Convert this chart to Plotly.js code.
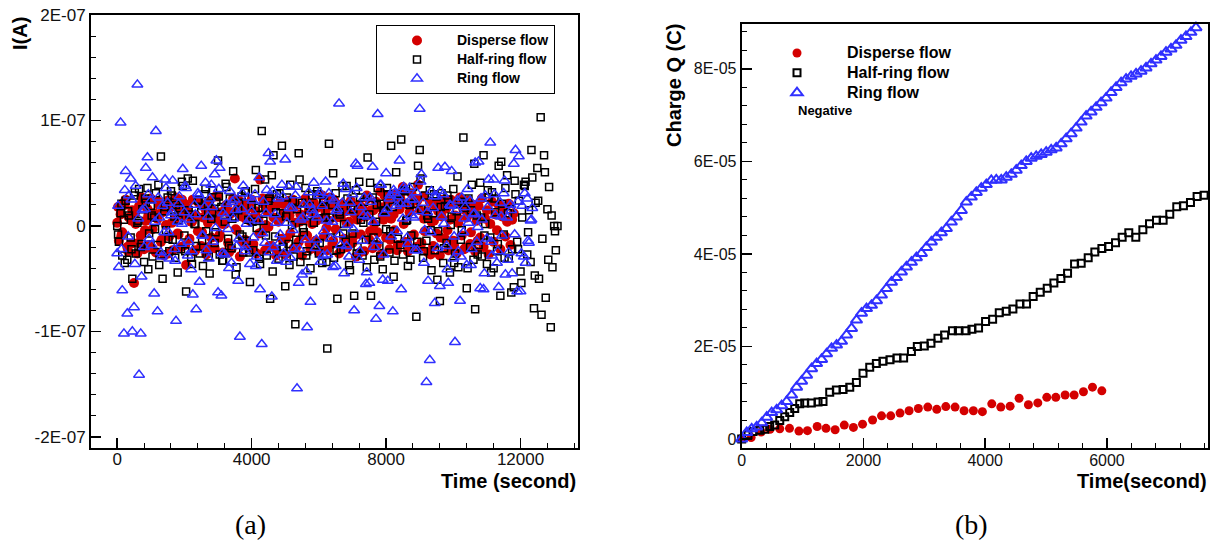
<!DOCTYPE html>
<html>
<head>
<meta charset="utf-8">
<script src="https://cdn.plot.ly/plotly-3.0.1.min.js"></script>
<style>html,body{margin:0;padding:0;background:#fff;}#chart{width:1212px;height:548px;}</style>
</head>
<body>
<div id="chart"></div>
<script>
// ---------- Panel (a): current I(A) vs time, values in units of 1e-8 A ----------
const timeGrid = [
0,50,100,150,200,250,300,350,400,450,500,550,600,650,700,750,800,850,900,950,
1000,1050,1100,1150,1200,1250,1300,1350,1400,1450,1500,1550,1600,1650,1700,1750,1800,1850,1900,1950,
2000,2050,2100,2150,2200,2250,2300,2350,2400,2450,2500,2550,2600,2650,2700,2750,2800,2850,2900,2950,
3000,3050,3100,3150,3200,3250,3300,3350,3400,3450,3500,3550,3600,3650,3700,3750,3800,3850,3900,3950,
4000,4050,4100,4150,4200,4250,4300,4350,4400,4450,4500,4550,4600,4650,4700,4750,4800,4850,4900,4950,
5000,5050,5100,5150,5200,5250,5300,5350,5400,5450,5500,5550,5600,5650,5700,5750,5800,5850,5900,5950,
6000,6050,6100,6150,6200,6250,6300,6350,6400,6450,6500,6550,6600,6650,6700,6750,6800,6850,6900,6950,
7000,7050,7100,7150,7200,7250,7300,7350,7400,7450,7500,7550,7600,7650,7700,7750,7800,7850,7900,7950,
8000,8050,8100,8150,8200,8250,8300,8350,8400,8450,8500,8550,8600,8650,8700,8750,8800,8850,8900,8950,
9000,9050,9100,9150,9200,9250,9300,9350,9400,9450,9500,9550,9600,9650,9700,9750,9800,9850,9900,9950,
10000,10050,10100,10150,10200,10250,10300,10350,10400,10450,10500,10550,10600,10650,10700,10750,10800,10850,10900,10950,
11000,11050,11100,11150,11200,11250,11300,11350,11400,11450,11500,11550,11600,11650,11700,11750,11800,11850,11900,11950,
12000,12050,12100,12150,12200,12250,12300,12350,12400,12450,12500,12550,12600,12650,12700,12750,12800,12850,12900,12950,
13000,13050,13100];

// interleaved readings between the main grid
const timeGridB = [
25,125,225,325,425,525,625,725,825,925,1025,1125,1225,1325,1425,1525,1625,1725,1825,1925,
2025,2125,2225,2325,2425,2525,2625,2725,2825,2925,3025,3125,3225,3325,3425,3525,3625,3725,3825,3925,
4025,4125,4225,4325,4425,4525,4625,4725,4825,4925,5025,5125,5225,5325,5425,5525,5625,5725,5825,5925,
6025,6125,6225,6325,6425,6525,6625,6725,6825,6925,7025,7125,7225,7325,7425,7525,7625,7725,7825,7925,
8025,8125,8225,8325,8425,8525,8625,8725,8825,8925,9025,9125,9225,9325,9425,9525,9625,9725,9825,9925,
10025,10125,10225,10325,10425,10525,10625,10725,10825,10925,11025,11125,11225,11325,11425,11525,11625,11725,11825,11925,
12025,12125,12225,12325,12425,12525,12625,12725,12825,12925,13025];

const disperseI = [0.3,-1.4,1.1,-0.6,2.2,2.5,-2.0,0.8,-1.7,1.5,
 -5.4,0.2,-2.6,1.9,-0.9,2.3,-2.2,0.5,1.6,-1.8,
 2.6,-0.3,1.2,-2.5,0.7,2.0,-1.5,1.3,-2.8,0.1,
 2.4,-1.0,1.8,-2.3,0.6,2.7,-0.7,1.4,-2.0,0.9,
 2.1,-3.7,1.7,-1.2,0.4,2.5,-2.4,1.0,-0.5,2.2,
 -1.9,0.8,1.9,-2.7,0.3,2.4,-1.1,1.5,-2.1,0.6,
 2.8,-0.8,1.3,-2.5,0.2,2.0,-1.6,1.1,-2.2,2.6,
 4.5,-0.4,1.8,-2.9,0.9,2.2,-1.3,1.6,-2.0,0.5,
 2.5,-1.7,1.0,-2.6,0.7,4.4,-0.6,2.1,-2.3,1.4,
 -0.1,2.7,-1.9,0.8,1.9,-2.4,0.4,2.3,-1.2,1.2,
 -2.7,0.9,2.4,-0.7,1.6,-2.1,0.3,2.0,-1.5,1.1,
 -2.8,0.6,2.6,-0.9,1.5,-2.2,0.2,2.2,-1.4,1.7,
 -2.5,0.7,2.9,-1.0,1.3,-2.3,0.5,1.9,-1.7,2.5,
 -0.3,1.0,-2.6,0.8,2.1,-1.2,1.4,-2.0,0.4,2.4,
 -1.6,1.2,-2.9,0.6,2.0,-0.8,1.7,-2.4,0.9,2.6,
 -1.3,1.5,-2.1,0.2,2.3,-0.6,1.8,-2.7,1.0,2.9,
 -1.1,2.2,-2.2,0.7,3.0,-0.4,2.4,-1.8,1.6,3.2,
 3.7,-1.5,2.1,-2.4,1.3,3.1,-0.9,2.6,-2.0,3.9,
 1.5,-1.6,2.8,-0.5,1.1,-2.5,2.3,0.4,-1.9,2.0,
 -0.7,1.4,-2.8,0.9,2.5,-1.2,1.7,-2.3,0.6,2.2,
 -1.4,1.0,-2.6,0.3,2.7,-0.9,1.6,-2.1,0.8,2.4,
 -1.7,1.2,2.0,-2.4,0.5,1.9,-1.1,2.6,-2.0,0.7,
 1.5,-2.7,0.2,2.3,-1.5,1.1,-0.4,2.0,-2.2,0.9,
 1.7,-1.0,0.4,2.1,-1.8,0.6,1.2];
const disperseIB = [1.8,-0.9,2.0,-2.4,0.5,1.2,-1.6,2.7,-0.4,1.0,
 -2.1,0.8,2.3,-1.3,1.5,-2.6,0.3,1.9,-0.8,2.5,
 -1.8,1.1,0.4,-2.3,2.2,-0.6,1.6,-2.0,0.9,2.8,
 -1.1,0.2,1.7,-2.5,1.3,-0.3,2.4,-1.5,0.7,2.0,
 -2.2,1.4,-0.7,2.6,0.1,-1.9,1.8,-2.8,0.6,2.1,
 -1.2,1.0,2.5,-2.0,0.4,-0.9,2.3,-1.7,1.2,0.5,
 -2.4,1.9,-0.2,2.7,-1.4,0.8,1.6,-2.1,0.3,2.2,
 -1.0,1.3,-2.5,0.9,2.9,-0.5,1.5,-1.8,3.3,0.6,
 2.0,-1.3,1.1,-2.3,2.6,0.2,-1.6,1.9,-0.8,2.4,
 -2.0,0.7,1.4,-2.7,0.5,2.1,-1.1,1.6,-0.4,2.5,
 -1.9,0.8,2.2,-2.2,1.2,-0.6,1.8,-1.4];

const halfRingI = [0.0,-1.5,1.2,-2.8,0.6,2.4,-3.2,1.0,-1.1,-5.0,
 2.9,-2.6,0.3,3.5,-2.0,1.6,-3.4,2.2,3.6,-0.7,
 1.9,-2.9,0.8,3.1,-1.8,-3.7,6.6,-5.0,1.4,-0.4,
 2.7,-2.4,3.3,-1.3,0.9,2.0,-4.4,1.7,-2.2,3.8,
 -0.9,-6.2,4.5,1.1,-3.0,4.3,0.2,-1.9,2.5,-2.6,
 1.3,-3.8,3.0,-0.5,2.1,-4.5,0.7,3.4,-1.6,2.3,
 6.2,-2.7,1.8,-3.3,0.4,3.7,-1.2,2.6,-2.1,5.2,
 0.9,-3.9,1.5,-0.8,2.8,-2.5,3.2,-1.4,0.6,-5.3,
 2.0,-2.3,3.5,-0.2,1.7,-3.6,9.0,0.5,4.4,-2.8,
 2.4,-6.9,4.8,6.7,-1.0,3.0,-3.1,1.2,7.6,-2.0,
 -5.7,2.7,-1.7,3.9,0.1,-2.9,-9.3,1.6,6.9,-3.4,
 2.2,-0.6,3.6,-2.4,1.0,-4.0,2.9,0.3,-1.8,3.3,
 -2.6,1.4,-3.5,2.5,0.8,-11.6,7.8,-1.1,2.0,-3.0,
 3.1,-6.9,1.3,-2.2,3.8,0.2,-1.5,2.6,-3.7,1.9,
 -0.7,-6.6,3.4,-2.0,4.2,0.6,-2.8,2.3,-1.3,6.5,
 1.1,-6.6,2.7,-3.2,0.4,3.6,-1.9,2.1,-4.1,1.5,
 -0.3,3.0,-2.5,7.6,1.8,-3.3,5.1,-1.2,2.4,8.2,
 -2.7,3.3,0.5,-3.8,2.0,-0.9,3.7,-2.1,-8.6,5.7,
 7.2,1.6,-3.0,2.9,-1.4,0.7,3.4,-4.2,1.2,-2.3,
 2.8,-0.5,-7.1,3.1,-3.5,1.9,-1.6,2.5,-4.4,0.9,
 3.5,-2.6,1.4,-3.9,2.3,-0.4,8.4,1.7,-5.9,2.6,
 -2.0,3.9,-3.2,-7.9,1.0,-1.8,4.1,-2.9,6.7,0.2,
 -3.6,2.7,-1.1,3.2,-4.0,1.3,-2.4,5.7,-6.6,2.1,
 -0.8,3.6,4.8,-3.1,1.6,-2.2,-5.8,3.0,-1.5,2.4,
 -4.3,0.8,3.9,4.2,-2.7,1.5,-3.4,4.6,-7.8,2.2,
 5.5,-5.0,10.3,-1.2,6.7,-6.8,1.6,3.7,-9.6,-3.9,
 0.0,-2.3,0.0];
const halfRingIB = [-0.8,2.1,-3.5,1.4,-2.2,3.2,0.5,-1.7,2.6,-4.1,
 1.0,-0.3,3.9,-2.7,1.8,-1.2,2.9,-3.0,0.6,4.2,
 -2.4,1.5,-3.6,0.2,2.4,-1.4,3.5,-2.9,1.2,-0.6,
 2.8,-3.3,4.0,-1.9,0.7,-4.6,2.2,-1.0,3.3,-2.5,
 0.4,5.3,-3.1,1.7,-0.9,2.6,-4.3,1.3,3.1,-2.0,
 0.9,-3.7,2.4,-1.3,4.4,-0.2,-2.8,1.9,-5.2,3.0,
 -1.6,2.3,-3.4,0.8,5.0,-2.3,1.1,-0.7,3.8,-4.2,
 1.6,-2.6,2.7,0.3,-3.9,4.1,-1.1,2.0,-2.9,1.4,
 3.6,-0.5,-4.8,2.5,-1.8,3.4,0.6,-3.2,2.1,-1.5,
 4.5,-2.4,1.0,-0.4,3.0,-5.1,1.8,-2.1,2.9,0.1,
 -3.5,4.7,-1.3,2.2,-4.0,1.5,5.9,-2.7,0.8,-0.9,
 3.4,-4.4,2.6,-1.7,6.1,-3.0,1.2,-6.3,4.3,-2.2,
 -5.4,3.8,-0.6,7.2,-4.7,2.4,-8.4,5.1,-3.2,1.0,
 -0.5];

const ringI = [-2.6,-3.9,9.8,-6.1,-10.2,5.2,-8.3,2.9,4.5,-10.0,
 -7.7,3.8,13.4,-14.1,-10.2,1.5,-2.0,5.5,6.5,-1.2,
 2.4,4.6,-6.4,9.0,-8.1,0.8,-2.5,1.9,-0.6,3.6,
 2.2,-3.1,1.0,4.3,-2.2,-9.0,0.4,2.8,-1.7,5.4,
 1.3,3.6,-2.8,0.6,-4.1,-6.5,2.0,-7.9,3.1,-5.3,
 5.7,-0.9,1.8,-2.3,0.9,2.6,3.9,-1.5,4.9,6.2,
 -6.3,5.5,-6.6,1.2,-2.7,2.1,-0.3,3.3,-3.5,0.7,
 2.5,-1.9,-5.2,-10.5,1.6,3.8,-2.4,0.2,2.7,-3.6,
 1.4,-1.1,3.0,-2.9,0.5,-6.0,-11.2,2.3,-1.6,3.4,
 6.9,6.1,-6.7,-2.0,1.1,-3.3,2.6,-0.8,3.9,-2.6,
 6.3,0.3,3.7,-3.0,1.7,-2.2,2.9,-15.4,-5.4,0.6,
 -4.6,2.0,-1.3,-9.6,3.2,-7.2,1.5,4.1,-2.1,0.8,
 2.9,-3.4,1.9,-0.5,4.2,-2.7,3.1,-1.2,0.4,2.4,
 -3.8,1.6,11.6,-1.8,2.2,-4.5,3.5,0.1,-2.9,1.3,
 3.0,-8.0,5.9,5.7,-3.2,1.8,-1.4,2.7,-5.5,0.9,
 -5.4,2.3,5.6,-2.0,-8.8,10.6,-7.6,3.9,-5.1,1.2,
 5.0,-5.2,2.6,-1.0,-8.1,3.1,1.9,2.8,6.2,-6.0,
 0.7,3.4,2.1,-1.7,3.6,1.0,2.5,-2.3,3.2,1.4,
 11.1,4.9,2.2,-0.4,-14.8,-5.2,-12.7,3.3,1.7,-7.3,
 2.8,5.5,-5.7,0.9,3.0,5.6,-1.9,-5.4,2.0,5.2,
 -3.1,-11.0,1.5,-2.4,-7.1,2.7,-0.6,1.8,-3.7,0.3,
 2.4,-2.2,1.1,6.0,-1.5,6.1,-5.9,0.6,-6.0,2.9,
 -1.2,4.4,7.9,-2.8,4.4,1.0,-3.5,-5.8,2.2,-0.9,
 3.1,-4.6,0.8,-2.5,2.0,-4.5,5.9,7.2,-6.2,6.6,
 -6.2,1.9,-2.9,-3.5,2.6,-1.6,0.5,1.7];
const ringIB = [1.9,-2.2,3.4,-1.0,2.5,-3.6,0.7,-4.8,1.6,3.0,
 -1.8,0.4,2.7,-2.9,4.4,-0.6,1.3,-3.3,2.1,0.2,
 3.8,-1.5,-2.4,1.1,2.9,-0.9,4.1,-3.1,1.8,-0.2,
 3.5,-2.6,0.9,-4.0,2.3,1.5,-1.2,3.1,-2.0,0.6,
 2.4,-3.8,4.6,-0.7,1.2,-2.5,3.3,0.3,-1.6,2.8,
 -3.4,1.7,-0.4,3.7,-2.2,0.8,-4.3,2.0,1.1,-1.3,
 3.2,-2.8,0.5,2.6,-3.9,1.4,-0.8,4.0,-1.9,2.2,
 -0.3,3.6,-2.4,1.0,-4.4,2.7,0.4,-1.4,3.9,-2.7,
 1.6,2.9,3.4,-0.5,2.1,3.7,-1.1,2.5,0.8,-2.3,
 4.2,-3.5,1.3,-0.6,2.8,-2.1,3.3,0.2,-4.1,1.9,
 -1.0,2.4,-2.9,0.7,3.5,-3.7,1.2,-0.1,2.6,-4.5,
 1.8,-1.5,3.0,-2.4,0.9,4.3,-3.2,1.5,-0.8,2.3,
 -2.6,3.1,-1.4,0.6];

// ---------- Panel (b): cumulative charge Q vs time, values in units of 1e-5 C ----------
const disperseT = [0,155,320,465,625,785,940,1080,1240,1385,1535,1685,1835,1985,2150,2297,2448,2601,2750,2902,
 3057,3205,3353,3505,3653,3806,3954,4108,4256,4409,4557,4710,4864,5012,5160,5313,5461,5614,5762,5916];
const disperseQ = [0.01,0.03,0.15,0.21,0.22,0.23,0.17,0.18,0.27,0.23,0.20,0.30,0.25,0.32,0.41,0.50,0.50,0.56,0.61,0.66,
 0.69,0.64,0.70,0.69,0.61,0.61,0.59,0.76,0.69,0.71,0.88,0.74,0.78,0.90,0.90,0.95,0.95,1.02,1.12,1.04];

const halfRingT = [0,104,187,296,378,460,542,625,707,789,871,953,1035,1144,1254,1336,1446,1555,1665,1775,
 1884,1993,2103,2212,2320,2436,2551,2660,2788,2885,3000,3109,3224,3333,3462,3558,3686,3782,3891,4006,
 4122,4231,4346,4455,4571,4679,4788,4904,5019,5128,5244,5353,5468,5577,5692,5801,5917,6026,6141,6250,
 6359,6474,6590,6699,6814,6923,7032,7147,7256,7372,7481,7596];
const halfRingQ = [0,0.09,0.16,0.19,0.21,0.27,0.30,0.40,0.48,0.57,0.66,0.76,0.78,0.78,0.80,0.81,1.01,1.06,1.07,1.12,
 1.22,1.42,1.55,1.63,1.68,1.71,1.75,1.75,1.89,2.00,2.01,2.07,2.18,2.25,2.34,2.34,2.34,2.37,2.40,2.54,
 2.59,2.73,2.76,2.81,2.92,2.92,3.08,3.17,3.26,3.37,3.47,3.58,3.78,3.80,3.92,4.04,4.12,4.16,4.24,4.36,
 4.46,4.36,4.52,4.65,4.73,4.73,4.86,5.02,5.04,5.11,5.24,5.27];

const ringT = [0,82,164,246,328,410,492,574,656,738,820,902,984,1066,1148,1230,1312,1394,1476,1558,
 1640,1722,1804,1886,1968,2050,2132,2214,2296,2378,2460,2542,2624,2706,2788,2870,2952,3034,3116,3198,
 3280,3362,3444,3526,3608,3690,3772,3854,3936,4018,4100,4182,4264,4346,4428,4510,4592,4674,4756,4838,
 4920,5002,5084,5166,5248,5330,5412,5494,5576,5658,5740,5822,5904,5986,6068,6150,6232,6314,6396,6478,
 6560,6642,6724,6806,6888,6970,7052,7134,7216,7298,7380,7462];
const ringQ = [0.00,0.14,0.22,0.26,0.35,0.47,0.57,0.63,0.72,0.81,0.95,1.12,1.25,1.38,1.52,1.63,1.72,1.84,1.96,2.03,
 2.11,2.25,2.39,2.57,2.72,2.82,2.89,2.99,3.11,3.25,3.39,3.49,3.61,3.72,3.82,3.92,4.01,4.14,4.26,4.36,
 4.46,4.55,4.69,4.80,4.94,5.12,5.23,5.33,5.42,5.50,5.59,5.60,5.60,5.66,5.72,5.81,5.91,6.00,6.07,6.11,
 6.15,6.20,6.25,6.29,6.38,6.49,6.60,6.72,6.85,6.98,7.07,7.17,7.27,7.37,7.49,7.60,7.70,7.78,7.84,7.89,
 7.95,8.02,8.11,8.19,8.27,8.36,8.43,8.51,8.62,8.70,8.79,8.89];

// tick labels and names
const leftYTickVals = [-2e-7, -1e-7, 0, 1e-7, 2e-7];
const leftYTickText = ['-2E-07', '-1E-07', '0', '1E-07', '2E-07'];
const rightYTickVals = [0, 2e-5, 4e-5, 6e-5, 8e-5];
const rightYTickText = ['0', '2E-05', '4E-05', '6E-05', '8E-05'];
const seriesNames = ['Disperse flow', 'Half-ring flow', 'Ring flow'];

// ---------- styling ----------
const FONT = 'Liberation Sans, Arial, Helvetica, sans-serif';
const RED = '#d40000', BLUE = '#3030ff', BLACK = '#000000';
const W = 1212, H = 548;
const px = v => v / W;
const py = v => 1 - v / H;
const toA = a => a.map(v => v * 1e-8);
const toC = a => a.map(v => v * 1e-5);
const sized = (name, s) => '<span style="font-size:' + s + 'px">' + name + '</span>';
const pair = (vals, valsB) => ({
  x: timeGrid.slice(0, vals.length).concat(timeGridB.slice(0, valsB.length)),
  y: toA(vals.concat(valsB))
});

const dA = pair(disperseI, disperseIB), hA = pair(halfRingI, halfRingIB), rA = pair(ringI, ringIB);

const traces = [
  {x: dA.x, y: dA.y, name: sized(seriesNames[0], 14), type: 'scatter', mode: 'markers',
   xaxis: 'x', yaxis: 'y', legend: 'legend',
   marker: {symbol: 'circle', size: 10, color: RED}},
  {x: hA.x, y: hA.y, name: sized(seriesNames[1], 14), type: 'scatter', mode: 'markers',
   xaxis: 'x', yaxis: 'y', legend: 'legend',
   marker: {symbol: 'square-open', size: 7, color: BLACK, line: {width: 1.5, color: BLACK}}},
  {x: rA.x, y: rA.y, name: sized(seriesNames[2], 14), type: 'scatter', mode: 'markers',
   xaxis: 'x', yaxis: 'y', legend: 'legend',
   marker: {symbol: 'triangle-up-open', size: 9.5, color: BLUE, line: {width: 1.5, color: BLUE}}},
  {x: disperseT, y: toC(disperseQ), name: sized(seriesNames[0], 16), type: 'scatter', mode: 'markers',
   xaxis: 'x2', yaxis: 'y2', legend: 'legend2', cliponaxis: false,
   marker: {symbol: 'circle', size: 9, color: RED}},
  {x: halfRingT, y: toC(halfRingQ), name: sized(seriesNames[1], 16), type: 'scatter', mode: 'markers',
   xaxis: 'x2', yaxis: 'y2', legend: 'legend2', cliponaxis: false,
   marker: {symbol: 'square-open', size: 7, color: BLACK, line: {width: 2, color: BLACK}}},
  {x: ringT, y: toC(ringQ), name: sized(seriesNames[2], 16), type: 'scatter', mode: 'markers',
   xaxis: 'x2', yaxis: 'y2', legend: 'legend2', cliponaxis: false,
   marker: {symbol: 'triangle-up-open', size: 10, color: BLUE, line: {width: 2, color: BLUE}}}
];

const axisCommon = {
  showline: true, mirror: true, linecolor: '#000', linewidth: 2,
  showgrid: false, zeroline: false, ticks: 'inside', ticklen: 10, tickwidth: 1.5, tickcolor: '#000',
  tickfont: {family: FONT, size: 17, color: '#111'}
};

const layout = {
  width: W, height: H,
  margin: {l: 0, r: 0, t: 0, b: 0, pad: 0},
  paper_bgcolor: '#fff', plot_bgcolor: '#fff',
  font: {family: FONT, color: '#000'},
  showlegend: true,
  xaxis: Object.assign({}, axisCommon, {
    domain: [px(91), px(578)], anchor: 'y', range: [-780, 13710],
    tickmode: 'linear', tick0: 0, dtick: 4000, tickformat: 'd', ticklabelstandoff: -5,
    minor: {ticks: 'inside', ticklen: 5, tickcolor: '#000', tickwidth: 1, dtick: 800, tick0: 0}
  }),
  yaxis: Object.assign({}, axisCommon, {
    domain: [py(448), py(15)], anchor: 'x', range: [-2.104e-7, 2.0e-7],
    tickmode: 'array', tickvals: leftYTickVals, ticktext: leftYTickText,
    minor: {ticks: 'inside', ticklen: 5, tickcolor: '#000', tickwidth: 1, dtick: 2e-8, tick0: 0}
  }),
  xaxis2: Object.assign({}, axisCommon, {
    domain: [px(741.7), px(1208)], anchor: 'y2', range: [0, 7660],
    tickmode: 'linear', tick0: 0, dtick: 2000, tickformat: 'd', ticklabelstandoff: -3,
    tickfont: {family: FONT, size: 16, color: '#111'},
    minor: {ticks: 'inside', ticklen: 5, tickcolor: '#000', tickwidth: 1, dtick: 400, tick0: 0}
  }),
  yaxis2: Object.assign({}, axisCommon, {
    domain: [py(448), py(24)], anchor: 'x2', range: [-1.95e-6, 8.97e-5],
    tickmode: 'array', tickvals: rightYTickVals, ticktext: rightYTickText,
    tickfont: {family: FONT, size: 16, color: '#111'},
    minor: {ticks: 'inside', ticklen: 5, tickcolor: '#000', tickwidth: 1, dtick: 4e-6, tick0: 0}
  }),
  legend: {
    x: px(376), y: py(25), xanchor: 'left', yanchor: 'top',
    bgcolor: '#fff', bordercolor: '#000', borderwidth: 1,
    font: {family: FONT, size: 11, weight: 'bold', color: '#000'},
    itemwidth: 70, tracegroupgap: 0, traceorder: 'normal'
  },
  legend2: {
    x: px(747), y: py(38), xanchor: 'left', yanchor: 'top',
    bgcolor: 'rgba(0,0,0,0)', borderwidth: 0,
    font: {family: FONT, size: 13, weight: 'bold', color: '#000'},
    itemwidth: 90, tracegroupgap: 0, traceorder: 'normal'
  },
  annotations: [
    {text: 'I(A)', xref: 'paper', yref: 'paper', x: px(20), y: py(33), textangle: -90,
     xanchor: 'center', yanchor: 'middle', showarrow: false,
     font: {family: FONT, size: 20, weight: 'bold', color: '#000'}},
    {text: 'Time (second)', xref: 'paper', yref: 'paper', x: px(578), y: py(481),
     xanchor: 'right', yanchor: 'middle', showarrow: false,
     font: {family: FONT, size: 20, weight: 'bold', color: '#000'}},
    {text: 'Charge Q (C)', xref: 'paper', yref: 'paper', x: px(674), y: py(86), textangle: -90,
     xanchor: 'center', yanchor: 'middle', showarrow: false,
     font: {family: FONT, size: 20, weight: 'bold', color: '#000'}},
    {text: 'Time(second)', xref: 'paper', yref: 'paper', x: px(1209), y: py(481),
     xanchor: 'right', yanchor: 'middle', showarrow: false,
     font: {family: FONT, size: 20, weight: 'bold', color: '#000'}},
    {text: 'Negative', xref: 'paper', yref: 'paper', x: px(796), y: py(110),
     xanchor: 'left', yanchor: 'middle', showarrow: false,
     font: {family: FONT, size: 13, weight: 'bold', color: '#000'}},
    {text: '(a)', xref: 'paper', yref: 'paper', x: px(250), y: py(524),
     xanchor: 'center', yanchor: 'middle', showarrow: false,
     font: {family: 'Liberation Serif, Times New Roman, serif', size: 28, color: '#000'}},
    {text: '(b)', xref: 'paper', yref: 'paper', x: px(971), y: py(524),
     xanchor: 'center', yanchor: 'middle', showarrow: false,
     font: {family: 'Liberation Serif, Times New Roman, serif', size: 28, color: '#000'}}
  ]
};

Plotly.newPlot('chart', traces, layout, {staticPlot: true, displayModeBar: false});
</script>
</body>
</html>
